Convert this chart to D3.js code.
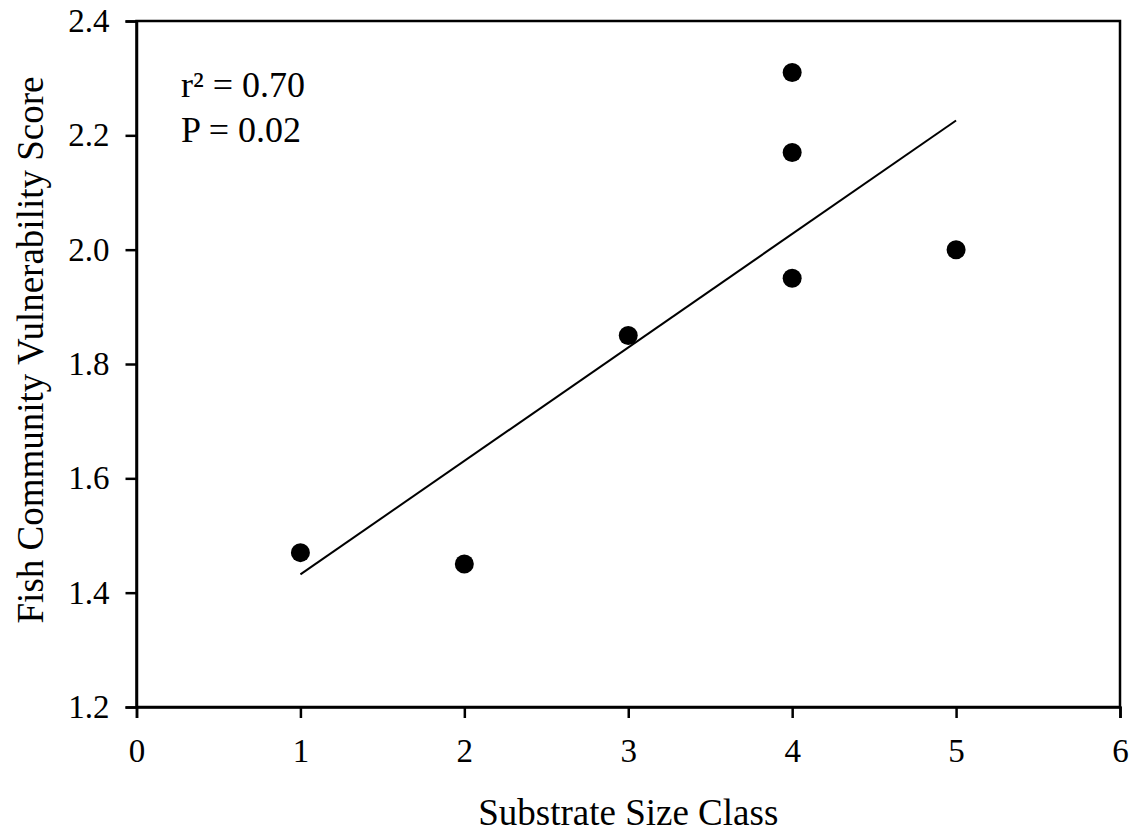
<!DOCTYPE html>
<html>
<head>
<meta charset="utf-8">
<script src="https://cdn.jsdelivr.net/npm/d3@7"></script>
<style>
  body { margin: 0; background: #fff; }
  svg text { font-family: "Liberation Serif", "Times New Roman", serif !important; fill: #000; }
</style>
</head>
<body>
<div class="chart"></div>
<script>
// data
const substrateClass = [1, 2, 3, 4, 4, 4, 5];
const vulnScore = [1.47, 1.45, 1.85, 2.31, 2.17, 1.95, 2.0];
// fitted regression line end points
const fitX = [1, 5];
const fitY = [1.432, 2.226];
const xTicks = [0, 1, 2, 3, 4, 5, 6];
const yTicks = [1.2, 1.4, 1.6, 1.8, 2.0, 2.2, 2.4];
const statLines = ["r\u00B2 = 0.70", "P = 0.02"];

// setup chart
const width = 1139;
const height = 834;
const margin = { top: 21, right: 19, bottom: 127, left: 136.5 };

const svg = d3.select(".chart")
   .append("svg")
   .attr("width", width)
   .attr("height", height);

const x = d3.scaleLinear()
   .domain([0, 6])
   .range([margin.left, width - margin.right]);
const y = d3.scaleLinear()
   .domain([1.2, 2.4])
   .range([height - margin.bottom, margin.top]);

// frame (top + right lines, no ticks)
svg.append("rect")
   .attr("x", x(0))
   .attr("y", y(2.4))
   .attr("width", x(6) - x(0))
   .attr("height", y(1.2) - y(2.4))
   .attr("fill", "none")
   .attr("stroke", "#000")
   .attr("stroke-width", 2.5);

// x axis
const xAxis = svg.append("g")
   .attr("transform", `translate(0, ${y(1.2)})`)
   .attr("font-family", null)
   .call(d3.axisBottom(x).tickValues(xTicks).tickFormat(d3.format("d")).tickSize(11).tickPadding(21));
xAxis.select(".domain").attr("stroke-width", 2.5);
xAxis.selectAll(".tick line").attr("stroke-width", 2.5);
xAxis.selectAll("text").attr("font-size", 33);

// y axis
const yAxis = svg.append("g")
   .attr("transform", `translate(${x(0)}, 0)`)
   .call(d3.axisLeft(y).tickValues(yTicks).tickFormat(d3.format(".1f")).tickSize(11).tickPadding(16));
yAxis.select(".domain").attr("stroke-width", 2.5);
yAxis.selectAll(".tick line").attr("stroke-width", 2.5);
yAxis.selectAll("text").attr("font-size", 33);

// regression line
svg.append("path")
   .datum(d3.zip(fitX, fitY))
   .attr("fill", "none")
   .attr("stroke", "#000")
   .attr("stroke-width", 2)
   .attr("d", d3.line().x(d => x(d[0])).y(d => y(d[1])));

// points
svg.selectAll("circle.pt")
   .data(d3.zip(substrateClass, vulnScore))
   .enter()
   .append("circle")
   .attr("class", "pt")
   .attr("cx", d => x(d[0]))
   .attr("cy", d => y(d[1]))
   .attr("r", 9.5)
   .attr("fill", "#000");

// stats text
svg.selectAll("text.stat")
   .data(statLines)
   .enter()
   .append("text")
   .attr("class", "stat")
   .attr("x", 181)
   .attr("y", (d, i) => 97 + i * 45)
   .attr("font-size", 36)
   .text(d => d);

// axis titles
svg.append("text")
   .attr("x", (x(0) + x(6)) / 2)
   .attr("y", 825)
   .attr("text-anchor", "middle")
   .attr("font-size", 37)
   .text("Substrate Size Class");

svg.append("text")
   .attr("transform", "translate(43, 350) rotate(-90)")
   .attr("text-anchor", "middle")
   .attr("font-size", 37)
   .text("Fish Community Vulnerability Score");
</script>
</body>
</html>
